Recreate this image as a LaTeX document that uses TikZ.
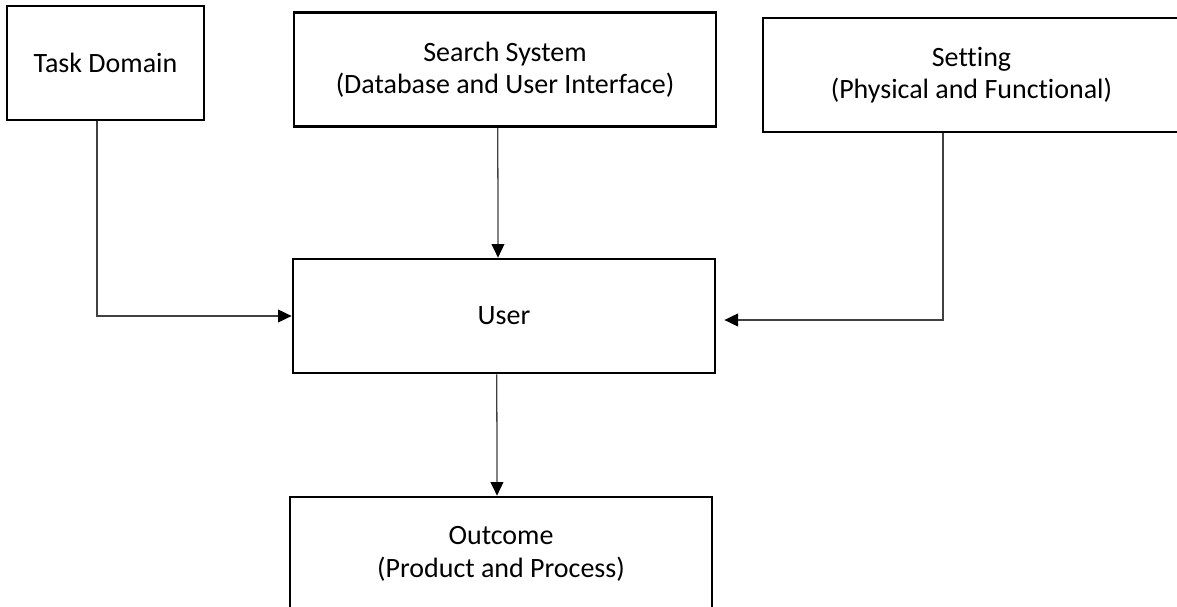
\documentclass[tikz,border=0pt]{standalone}
\usepackage{fontspec}
\setmainfont[Ligatures=NoCommon]{Carlito}
\usetikzlibrary{arrows.meta}

\tikzset{
    box/.style={draw, line width=1.9pt, rectangle, inner sep=0pt, align=center,
        minimum height=2.85cm, font=\fontsize{19.9}{23}\selectfont},
    arr/.style={draw=black!75, line width=0.9pt,
        -{Triangle[length=0.34cm, width=0.32cm, black]}}
}

\begin{document}
\begin{tikzpicture}[x=0.025cm, y=-0.025cm]
    \useasboundingbox (0,0) rectangle (1177,606);
    \clip (0,0) rectangle (1177,606);

    \node [box, minimum width=4.92cm] (task) at (105.5,63) {Task Domain};
    \node [box, minimum width=10.55cm] (search) at (505,69.5) {Search System\\(Database and User Interface)};
    \node [box, minimum width=10.42cm] (setting) at (971.5,75) {Setting\\(Physical and Functional)};
    \node [box, minimum width=10.55cm] (user) at (504,316) {User};
    \node [box, minimum width=10.55cm] (outcome) at (501,554) {Outcome\\(Product and Process)};

    \draw[arr] ([xshift=-0.21cm]task.south) |- (user.west);
    \draw[arr] ([xshift=-0.18cm]search.south) -- ([xshift=-0.15cm]user.north);
    \draw[arr] ([xshift=-0.71cm]setting.south) |- ([shift={(0.2cm,-0.1cm)}]user.east);
    \draw[arr] ([xshift=-0.18cm]user.south) -- ([xshift=-0.1cm]outcome.north);
\end{tikzpicture}
\end{document}
